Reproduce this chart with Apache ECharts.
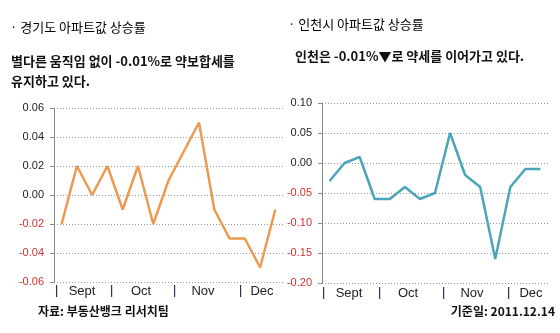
<!DOCTYPE html>
<html><head><meta charset="utf-8">
<script src="https://cdn.jsdelivr.net/npm/echarts@6/dist/echarts.min.js"></script>
<style>html,body{margin:0;padding:0;background:#fff}#c{width:560px;height:333px}</style>
</head><body><div id="c"></div>
<script>
// ---- data ----
var weeks = ['1','2','3','4','5','6','7','8','9','10','11','12','13','14','15'];
var gyeonggi = [-0.02, 0.02, 0.00, 0.02, -0.01, 0.02, -0.02, 0.01, 0.03, 0.05, -0.01, -0.03, -0.03, -0.05, -0.01];
var incheon  = [-0.03, 0.00, 0.01, -0.06, -0.06, -0.04, -0.06, -0.05, 0.05, -0.02, -0.04, -0.16, -0.04, -0.01, -0.01];
var monthLabels = ['Sept', 'Oct', 'Nov', 'Dec'];
var titleLeft = '· 경기도 아파트값 상승률';
var subLeft = '별다른 움직임 없이 -0.01%로 약보합세를\n유지하고 있다.';
var titleRight = '· 인천시 아파트값 상승률';
var subRight = '인천은 -0.01%▼로 약세를 이어가고 있다.';
var sourceText = '자료: 부동산뱅크 리서치팀';
var dateText = '기준일: 2011.12.14';

var KR = '"Noto Sans CJK KR", sans-serif';
var LAT = '"Liberation Sans", Arial, sans-serif';

function yAxisCfg(gridIndex, min, max, interval) {
  return {
    type: 'value', gridIndex: gridIndex, min: min, max: max, interval: interval,
    axisLine: {show: true, lineStyle: {color: '#888', width: 1}},
    axisTick: {show: true, length: 4, lineStyle: {color: '#888'}},
    axisLabel: {
      margin: 10, fontSize: 11, fontFamily: LAT,
      formatter: function (v) { return v.toFixed(2); },
      color: function (v) { return Number(v) < -1e-9 ? '#d0322f' : '#222'; }
    },
    splitLine: {show: true, lineStyle: {color: '#999', type: [1, 2], width: 1}}
  };
}
function xAxisCfg(gridIndex) {
  return {
    type: 'category', gridIndex: gridIndex, data: weeks, boundaryGap: true,
    axisLine: {show: false}, axisTick: {show: false}, axisLabel: {show: false}, splitLine: {show: false}
  };
}

var grids = [
  {left: 54, top: 108, width: 229, height: 174},
  {left: 322, top: 103, width: 226, height: 180}
];

// month label pixel positions (separator x, label center x)
var sepL = [56, 111, 174, 240], labL = [82, 141, 203, 262];
var sepR = [323, 379, 443, 508], labR = [349, 408, 472, 531];

var graphics = [
  {type: 'text', left: 10, top: 21, style: {text: titleLeft, font: 'normal 13px ' + KR, fill: '#000'}},
  {type: 'text', left: 11, top: 51, style: {text: subLeft, font: 'bold 13px ' + KR, fill: '#111', lineHeight: 20}},
  {type: 'text', left: 288, top: 18, style: {text: titleRight, font: 'normal 13px ' + KR, fill: '#000'}},
  {type: 'text', left: 295, top: 50, style: {text: subRight, font: 'bold 13px ' + KR, fill: '#111'}},
  {type: 'text', left: 38, top: 305, style: {text: sourceText, font: 'bold 12px ' + KR, fill: '#111'}},
  {type: 'text', right: 5, top: 305, style: {text: dateText, font: 'bold 12px ' + KR, fill: '#111'}}
];
function addMonths(seps, labs, yc) {
  for (var i = 0; i < monthLabels.length; i++) {
    graphics.push({type: 'rect', shape: {x: seps[i], y: yc - 6, width: 1.2, height: 12}, style: {fill: '#3a2d5c'}});
    graphics.push({type: 'text', x: labs[i], y: yc, style: {text: monthLabels[i], font: '13px ' + LAT, fill: '#222', align: 'center', verticalAlign: 'middle'}});
  }
}
addMonths(sepL, labL, 291);
addMonths(sepR, labR, 293);

var chart = echarts.init(document.getElementById('c'), null, {renderer: 'canvas'});
chart.setOption({
  animation: false,
  backgroundColor: '#fff',
  grid: grids,
  xAxis: [xAxisCfg(0), xAxisCfg(1)],
  yAxis: [yAxisCfg(0, -0.06, 0.06, 0.02), yAxisCfg(1, -0.2, 0.1, 0.05)],
  series: [
    {type: 'line', xAxisIndex: 0, yAxisIndex: 0, data: gyeonggi, symbol: 'none',
     lineStyle: {color: '#ec9a52', width: 2.5}},
    {type: 'line', xAxisIndex: 1, yAxisIndex: 1, data: incheon, symbol: 'none',
     lineStyle: {color: '#4ba5b9', width: 2.5}}
  ],
  graphic: graphics
});
</script></body></html>
